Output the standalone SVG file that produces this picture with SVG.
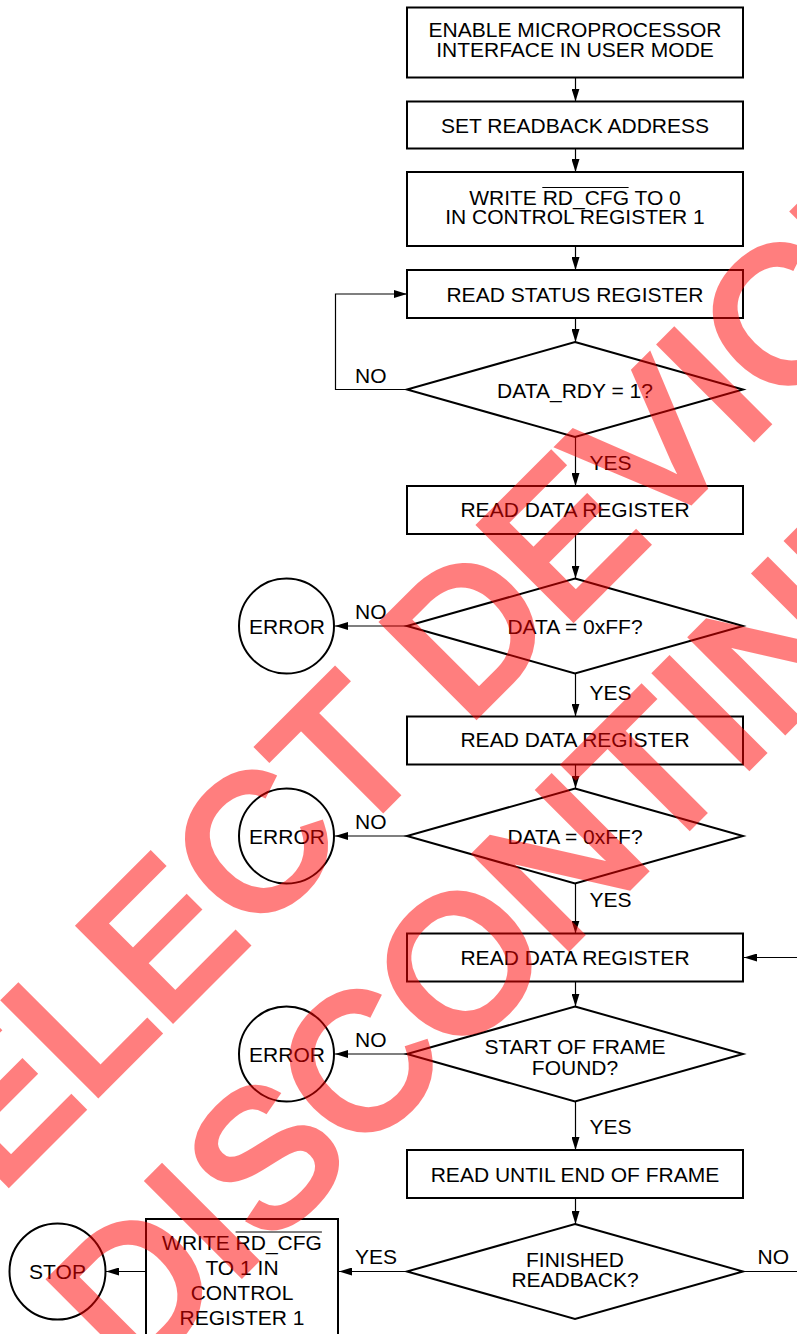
<svg xmlns="http://www.w3.org/2000/svg" width="797" height="1334" viewBox="0 0 797 1334">
<style>
.s{fill:#fff;stroke:#000;stroke-width:2}
.t{font-family:"Liberation Sans",Arial,Helvetica,sans-serif;font-size:21px;fill:#000;text-anchor:middle}
.l{font-family:"Liberation Sans",Arial,Helvetica,sans-serif;font-size:21px;fill:#000;text-anchor:start}
.c{fill:none;stroke:#000;stroke-width:1.2}
.a{fill:none;stroke:#000;stroke-width:1.2;marker-end:url(#ah)}
.ov{stroke:#000;stroke-width:1.2}
.wm{font-family:"Liberation Sans",Arial,Helvetica,sans-serif;font-size:190px;fill:#ff0000;stroke:#ff0000;stroke-width:8;stroke-linejoin:miter;text-anchor:middle}
</style>
<defs>
<marker id="ah" markerWidth="13" markerHeight="8" refX="13" refY="4" orient="auto" markerUnits="userSpaceOnUse"><path d="M0,0 L13,4 L0,8 z" fill="#000"/></marker>
</defs>
<rect x="0" y="0" width="797" height="1334" fill="#fff"/>

<g id="connectors">
<path class="a" d="M575.5,77.5 V101.5"/>
<path class="a" d="M575.5,148.5 V172"/>
<path class="a" d="M575.5,246 V270"/>
<path class="a" d="M575.5,318 V342"/>
<path class="a" d="M575.5,437 V486"/>
<path class="a" d="M575.5,534 V578.5"/>
<path class="a" d="M575.5,673.5 V716.5"/>
<path class="a" d="M575.5,764.5 V788.5"/>
<path class="a" d="M575.5,883.5 V933.5"/>
<path class="a" d="M575.5,981.5 V1006.5"/>
<path class="a" d="M575.5,1101.5 V1150"/>
<path class="a" d="M575.5,1198 V1224"/>
<path class="a" d="M407,389.5 H335.5 V294 H407"/>
<path class="a" d="M407,626 H335"/>
<path class="a" d="M407,836 H335"/>
<path class="a" d="M407,1054 H335"/>
<path class="a" d="M407,1271.5 H339"/>
<path class="a" d="M146,1271.5 H106"/>
<path class="a" d="M800,957.5 H744"/>
<path class="c" d="M743,1271.5 H800"/>
<text class="l" x="355" y="382.5">NO</text>
<text class="l" x="355" y="618.5">NO</text>
<text class="l" x="355" y="829">NO</text>
<text class="l" x="355" y="1047">NO</text>
<text class="l" x="589.5" y="470">YES</text>
<text class="l" x="589.5" y="699.5">YES</text>
<text class="l" x="589.5" y="907">YES</text>
<text class="l" x="589.5" y="1134">YES</text>
<text class="l" x="355" y="1264">YES</text>
<text class="l" x="757.5" y="1264">NO</text>
</g>

<g id="n1"><rect class="s" x="407" y="7.5" width="336" height="70"/>
<text class="t" x="575" y="37">ENABLE MICROPROCESSOR</text>
<text class="t" x="575" y="56.5">INTERFACE IN USER MODE</text></g>

<g id="n2"><rect class="s" x="407" y="101.5" width="336" height="47"/>
<text class="t" x="575" y="132.5">SET READBACK ADDRESS</text></g>

<g id="n3"><rect class="s" x="407" y="172" width="336" height="74"/>
<text class="t" x="575" y="204.5">WRITE RD_CFG TO 0</text>
<line class="ov" x1="542.3" y1="187.5" x2="628.6" y2="187.5"/>
<text class="t" x="575" y="224">IN CONTROL REGISTER 1</text></g>

<g id="n4"><rect class="s" x="407" y="270" width="336" height="48"/>
<text class="t" x="575" y="301.5">READ STATUS REGISTER</text></g>

<g id="d1"><path class="s" d="M575,342 L743,389.5 L575,437 L407,389.5 Z"/>
<text class="t" x="575" y="398">DATA_RDY = 1?</text></g>

<g id="n5"><rect class="s" x="407" y="486" width="336" height="48"/>
<text class="t" x="575" y="517">READ DATA REGISTER</text></g>

<g id="d2"><path class="s" d="M575,578.5 L743,626 L575,673.5 L407,626 Z"/>
<text class="t" x="575" y="634">DATA = 0xFF?</text></g>

<g id="e1"><circle class="s" cx="286.5" cy="626" r="47.5"/>
<text class="t" x="287" y="633.5">ERROR</text></g>

<g id="n6"><rect class="s" x="407" y="716.5" width="336" height="48"/>
<text class="t" x="575" y="747">READ DATA REGISTER</text></g>

<g id="d3"><path class="s" d="M575,788.5 L743,836 L575,883.5 L407,836 Z"/>
<text class="t" x="575" y="844">DATA = 0xFF?</text></g>

<g id="e2"><circle class="s" cx="286.5" cy="836" r="47.5"/>
<text class="t" x="287" y="843.5">ERROR</text></g>

<g id="n7"><rect class="s" x="407" y="933.5" width="336" height="48"/>
<text class="t" x="575" y="965">READ DATA REGISTER</text></g>

<g id="d4"><path class="s" d="M575,1006.5 L743,1054 L575,1101.5 L407,1054 Z"/>
<text class="t" x="575" y="1053.5">START OF FRAME</text>
<text class="t" x="575" y="1074.5">FOUND?</text></g>

<g id="e3"><circle class="s" cx="286.5" cy="1054" r="47.5"/>
<text class="t" x="287" y="1061.5">ERROR</text></g>

<g id="n8"><rect class="s" x="407" y="1150" width="336" height="48"/>
<text class="t" x="575" y="1181.5">READ UNTIL END OF FRAME</text></g>

<g id="d5"><path class="s" d="M575,1224 L743,1271.5 L575,1319 L407,1271.5 Z"/>
<text class="t" x="575" y="1266.5">FINISHED</text>
<text class="t" x="575" y="1287">READBACK?</text></g>

<g id="n9"><rect class="s" x="146" y="1219" width="192" height="130"/>
<text class="t" x="242" y="1250">WRITE RD_CFG</text>
<line class="ov" x1="235.6" y1="1232" x2="321.9" y2="1232"/>
<text class="t" x="242" y="1275">TO 1 IN</text>
<text class="t" x="242" y="1300">CONTROL</text>
<text class="t" x="242" y="1324.5">REGISTER 1</text></g>

<g id="stop"><circle class="s" cx="57.5" cy="1271.5" r="48"/>
<text class="t" x="57.5" y="1279">STOP</text></g>

<g id="watermark" opacity="0.5">
<text class="wm" transform="translate(481.7 709.4) rotate(-45)">SELECT DEVICES</text>
<text class="wm" transform="translate(643.7 871.4) rotate(-45)">DISCONTINUED</text>
</g>
</svg>
